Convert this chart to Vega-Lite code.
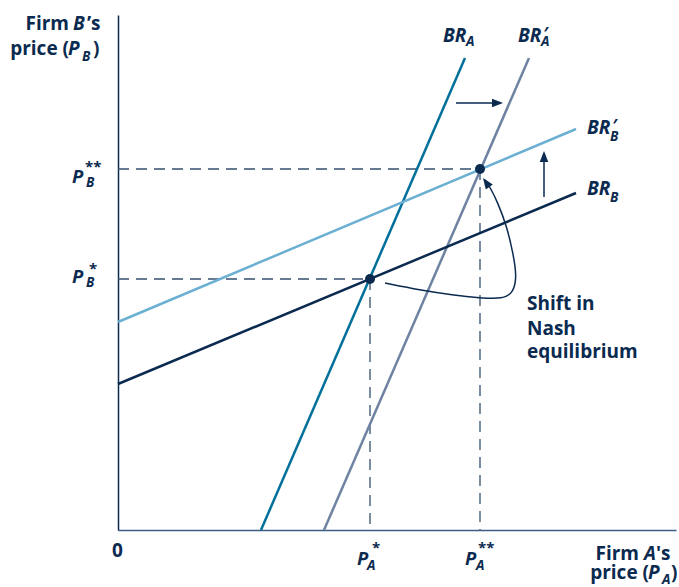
{
  "$schema": "https://vega.github.io/schema/vega-lite/v6.json",
  "width": 558,
  "height": 515,
  "autosize": "none",
  "padding": {"left": 118, "top": 15, "right": 3, "bottom": 57},
  "background": "white",
  "config": {"view": {"stroke": null}},
  "datasets": {
    "lines": [
      {"s": "BR_A", "x": 143, "y": 0}, {"s": "BR_A", "x": 347, "y": 472},
      {"s": "BR_A2", "x": 206, "y": 0}, {"s": "BR_A2", "x": 411, "y": 472},
      {"s": "BR_B2", "x": 0, "y": 208}, {"s": "BR_B2", "x": 458, "y": 401},
      {"s": "BR_B", "x": 0, "y": 146}, {"s": "BR_B", "x": 458, "y": 337}
    ],
    "dash": [
      {"x": 0, "y": 251, "x2": 252, "y2": 251},
      {"x": 252, "y": 251, "x2": 252, "y2": 0},
      {"x": 0, "y": 361, "x2": 362, "y2": 361},
      {"x": 362, "y": 361, "x2": 362, "y2": 0}
    ],
    "arrows": [
      {"x": 338, "y": 427, "x2": 383, "y2": 427},
      {"x": 426, "y": 333, "x2": 426, "y2": 377}
    ],
    "heads": [
      {"k": "right", "x": 385, "y": 427},
      {"k": "up", "x": 426, "y": 379},
      {"k": "curve", "x": 365, "y": 352}
    ],
    "curve": [
      {"i": 0, "x": 267, "y": 247},
      {"i": 1, "x": 302, "y": 240},
      {"i": 2, "x": 335, "y": 235},
      {"i": 3, "x": 362, "y": 232},
      {"i": 4, "x": 385, "y": 231},
      {"i": 5, "x": 395, "y": 237},
      {"i": 6, "x": 399, "y": 253},
      {"i": 7, "x": 395, "y": 277},
      {"i": 8, "x": 389, "y": 303},
      {"i": 9, "x": 380, "y": 327},
      {"i": 10, "x": 372, "y": 343},
      {"i": 11, "x": 367, "y": 350}
    ],
    "eq": [
      {"x": 252, "y": 251},
      {"x": 362, "y": 361}
    ],
    "plainL": [
      {"t": "’s", "x": -31, "y": 500},
      {"t": ")", "x": -25, "y": 475},
      {"t": "0", "x": -6, "y": -27},
      {"t": "Shift in", "x": 409, "y": 220},
      {"t": "Nash", "x": 409, "y": 195},
      {"t": "equilibrium", "x": 409, "y": 172},
      {"t": "'s", "x": 538, "y": -30},
      {"t": ")", "x": 553, "y": -49}
    ],
    "plainR": [
      {"t": "Firm", "x": -49, "y": 500},
      {"t": "price (", "x": -49, "y": 475},
      {"t": "Firm", "x": 521, "y": -30},
      {"t": "price (", "x": 531, "y": -49}
    ],
    "ital": [
      {"t": "B", "x": -45, "y": 500},
      {"t": "P", "x": -50, "y": 475},
      {"t": "A", "x": 526, "y": -30},
      {"t": "P", "x": 530, "y": -49},
      {"t": "BR", "x": 325, "y": 488},
      {"t": "BR", "x": 400, "y": 488},
      {"t": "BR", "x": 469, "y": 396},
      {"t": "BR", "x": 469, "y": 335}
    ],
    "italP": [
      {"t": "P", "x": -46, "y": 347},
      {"t": "P", "x": -46, "y": 247},
      {"t": "P", "x": 239, "y": -35},
      {"t": "P", "x": 347, "y": -35}
    ],
    "sub": [
      {"t": "B", "x": -36, "y": 469},
      {"t": "A", "x": 544, "y": -54},
      {"t": "A", "x": 348, "y": 484},
      {"t": "A", "x": 423, "y": 484},
      {"t": "B", "x": 492, "y": 389},
      {"t": "B", "x": 492, "y": 328},
      {"t": "B", "x": -32, "y": 343},
      {"t": "B", "x": -32, "y": 243},
      {"t": "A", "x": 249, "y": -40},
      {"t": "A", "x": 358, "y": -40}
    ],
    "sup": [
      {"t": "**", "x": -33, "y": 358},
      {"t": "*", "x": -29, "y": 256},
      {"t": "*", "x": 254, "y": -23},
      {"t": "**", "x": 360, "y": -23}
    ],
    "prime": [
      {"t": "′", "x": 425, "y": 490},
      {"t": "′", "x": 494, "y": 398}
    ]
  },
  "encoding": {
    "x": {"field": "x", "type": "quantitative", "title": null,
      "scale": {"domain": [0, 558], "nice": false, "zero": false},
      "axis": {"labels": false, "ticks": false, "grid": false, "domainColor": "#3E5D82", "domainWidth": 1.5}},
    "y": {"field": "y", "type": "quantitative", "title": null,
      "scale": {"domain": [0, 515], "nice": false, "zero": false},
      "axis": {"labels": false, "ticks": false, "grid": false, "domainColor": "#0B2A4F", "domainWidth": 1.5}}
  },
  "layer": [
    {
      "data": {"name": "dash"},
      "mark": {"type": "rule", "strokeDash": [11, 7], "color": "#34506F", "strokeWidth": 1.3},
      "encoding": {"x2": {"field": "x2"}, "y2": {"field": "y2"}}
    },
    {
      "data": {"name": "lines"},
      "mark": {"type": "line", "strokeWidth": 2.5},
      "encoding": {
        "detail": {"field": "s"},
        "color": {"field": "s", "type": "nominal", "legend": null,
          "scale": {"domain": ["BR_A", "BR_A2", "BR_B2", "BR_B"], "range": ["#00709A", "#6E82A2", "#6BB0D3", "#0B2A4F"]}}
      }
    },
    {
      "data": {"name": "arrows"},
      "mark": {"type": "rule", "color": "#0B2A4F", "strokeWidth": 1.5},
      "encoding": {"x2": {"field": "x2"}, "y2": {"field": "y2"}}
    },
    {
      "data": {"name": "curve"},
      "mark": {"type": "line", "interpolate": "basis", "color": "#0B2A4F", "strokeWidth": 1.5},
      "encoding": {"order": {"field": "i", "type": "quantitative"}}
    },
    {
      "data": {"name": "heads"},
      "transform": [{"filter": "datum.k == 'right'"}],
      "mark": {"type": "point", "shape": "M0,0 L-0.85,2.2 L0.85,2.2 Z", "filled": true, "opacity": 1, "color": "#0B2A4F", "size": 100, "angle": 90}
    },
    {
      "data": {"name": "heads"},
      "transform": [{"filter": "datum.k == 'up'"}],
      "mark": {"type": "point", "shape": "M0,0 L-0.85,2.2 L0.85,2.2 Z", "filled": true, "opacity": 1, "color": "#0B2A4F", "size": 100, "angle": 0}
    },
    {
      "data": {"name": "heads"},
      "transform": [{"filter": "datum.k == 'curve'"}],
      "mark": {"type": "point", "shape": "M0,0 L-0.85,2.2 L0.85,2.2 Z", "filled": true, "opacity": 1, "color": "#0B2A4F", "size": 100, "angle": -35}
    },
    {
      "data": {"name": "eq"},
      "mark": {"type": "point", "shape": "circle", "filled": true, "opacity": 1, "color": "#0B2A4F", "size": 100}
    },
    {
      "data": {"name": "plainL"},
      "mark": {"type": "text", "align": "left", "baseline": "alphabetic", "font": "Open Sans", "fontWeight": "bold", "fontSize": 19, "color": "#0B2A4F"},
      "encoding": {"text": {"field": "t"}}
    },
    {
      "data": {"name": "plainR"},
      "mark": {"type": "text", "align": "right", "baseline": "alphabetic", "font": "Open Sans", "fontWeight": "bold", "fontSize": 19, "color": "#0B2A4F"},
      "encoding": {"text": {"field": "t"}}
    },
    {
      "data": {"name": "ital"},
      "mark": {"type": "text", "align": "left", "baseline": "alphabetic", "font": "Open Sans", "fontWeight": "bold", "fontStyle": "italic", "fontSize": 19, "color": "#0B2A4F"},
      "encoding": {"text": {"field": "t"}}
    },
    {
      "data": {"name": "italP"},
      "mark": {"type": "text", "align": "left", "baseline": "alphabetic", "font": "Open Sans", "fontWeight": "bold", "fontStyle": "italic", "fontSize": 18.5, "color": "#0B2A4F"},
      "encoding": {"text": {"field": "t"}}
    },
    {
      "data": {"name": "sub"},
      "mark": {"type": "text", "align": "left", "baseline": "alphabetic", "font": "Open Sans", "fontWeight": "bold", "fontStyle": "italic", "fontSize": 13.5, "color": "#0B2A4F"},
      "encoding": {"text": {"field": "t"}}
    },
    {
      "data": {"name": "sup"},
      "mark": {"type": "text", "align": "left", "baseline": "alphabetic", "font": "Open Sans", "fontWeight": "bold", "fontSize": 15, "color": "#0B2A4F"},
      "encoding": {"text": {"field": "t"}}
    },
    {
      "data": {"name": "prime"},
      "mark": {"type": "text", "align": "left", "baseline": "alphabetic", "font": "Open Sans", "fontWeight": "bold", "fontStyle": "italic", "fontSize": 17, "color": "#0B2A4F"},
      "encoding": {"text": {"field": "t"}}
    }
  ]
}
